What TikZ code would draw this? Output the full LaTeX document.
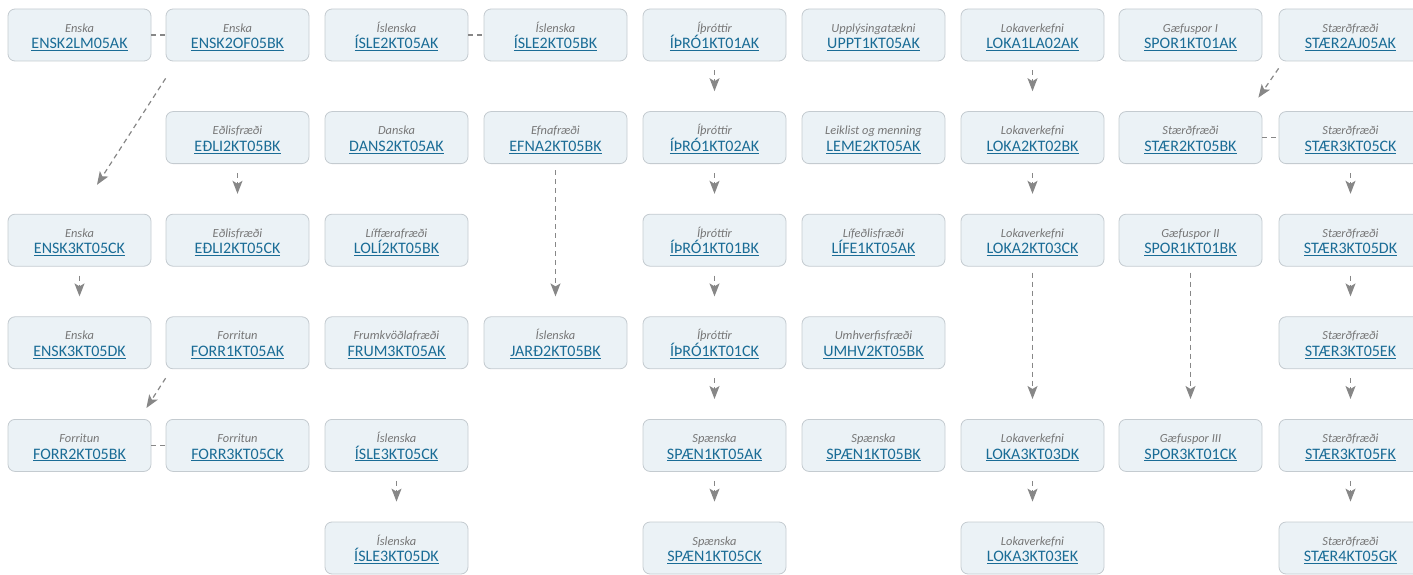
\documentclass[tikz,border=0pt]{standalone}
\usepackage{fontspec}
\setmainfont{Carlito}
\usetikzlibrary{arrows.meta}

\definecolor{boxfill}{RGB}{235,242,246}
\definecolor{boxline}{RGB}{196,203,208}
\definecolor{codeblue}{RGB}{26,108,150}
\definecolor{lblgray}{RGB}{118,118,118}
\definecolor{linkgray}{RGB}{135,135,135}

\newcommand{\crs}[2]{{\fontsize{12.4}{15}\selectfont\itshape\color{lblgray}\rule{0pt}{13pt}#1}\\{\color{codeblue}\underline{#2}}}

\begin{document}
\begin{tikzpicture}[x=1pt, y=-1pt,
  course/.style={draw=boxline, fill=boxfill, line width=0.8pt, rounded corners=7pt,
    minimum width=143pt, minimum height=52pt, align=center, inner sep=0pt,
    font=\fontsize{16}{16.5}\selectfont},
  link/.style={draw=linkgray, line width=1.2pt, dash pattern=on 5pt off 4pt},
  prereq/.style={link, -{Stealth[length=13pt, width=10pt, inset=3pt]}, shorten <=9pt, shorten >=20pt}]

  \useasboundingbox (0,0) rectangle (1413,575);

  % Enska / Forritun
  \draw (79.5,35) node[course] (ensklm) {\crs{Enska}{ENSK2LM05AK}};
  \draw (237.5,35) node[course] (enskof) {\crs{Enska}{ENSK2OF05BK}};
  \draw (237.5,137.6) node[course] (edlib) {\crs{Eðlisfræði}{EÐLI2KT05BK}};
  \draw (79.5,240.2) node[course] (enskc) {\crs{Enska}{ENSK3KT05CK}};
  \draw (237.5,240.2) node[course] (edlic) {\crs{Eðlisfræði}{EÐLI2KT05CK}};
  \draw (79.5,342.8) node[course] (enskd) {\crs{Enska}{ENSK3KT05DK}};
  \draw (237.5,342.8) node[course] (forra) {\crs{Forritun}{FORR1KT05AK}};
  \draw (79.5,445.4) node[course] (forrb) {\crs{Forritun}{FORR2KT05BK}};
  \draw (237.5,445.4) node[course] (forrc) {\crs{Forritun}{FORR3KT05CK}};

  % Íslenska / Danska / Efnafræði
  \draw (396.5,35) node[course] (islea) {\crs{Íslenska}{ÍSLE2KT05AK}};
  \draw (555.5,35) node[course] (isleb) {\crs{Íslenska}{ÍSLE2KT05BK}};
  \draw (396.5,137.6) node[course] (dans) {\crs{Danska}{DANS2KT05AK}};
  \draw (555.5,137.6) node[course] (efna) {\crs{Efnafræði}{EFNA2KT05BK}};
  \draw (396.5,240.2) node[course] (loli) {\crs{Líffærafræði}{LOLÍ2KT05BK}};
  \draw (396.5,342.8) node[course] (frum) {\crs{Frumkvöðlafræði}{FRUM3KT05AK}};
  \draw (555.5,342.8) node[course] (jard) {\crs{Íslenska}{JARÐ2KT05BK}};
  \draw (396.5,445.4) node[course] (islec) {\crs{Íslenska}{ÍSLE3KT05CK}};
  \draw (396.5,548) node[course] (isled) {\crs{Íslenska}{ÍSLE3KT05DK}};

  % Íþróttir / Spænska
  \draw (714.5,35) node[course] (ithra) {\crs{Íþróttir}{ÍÞRÓ1KT01AK}};
  \draw (714.5,137.6) node[course] (ithrb) {\crs{Íþróttir}{ÍÞRÓ1KT02AK}};
  \draw (714.5,240.2) node[course] (ithrc) {\crs{Íþróttir}{ÍÞRÓ1KT01BK}};
  \draw (714.5,342.8) node[course] (ithrd) {\crs{Íþróttir}{ÍÞRÓ1KT01CK}};
  \draw (714.5,445.4) node[course] (spaea) {\crs{Spænska}{SPÆN1KT05AK}};
  \draw (714.5,548) node[course] (spaec) {\crs{Spænska}{SPÆN1KT05CK}};

  % Valáfangar
  \draw (873.5,35) node[course] (uppt) {\crs{Upplýsingatækni}{UPPT1KT05AK}};
  \draw (873.5,137.6) node[course] (leme) {\crs{Leiklist og menning}{LEME2KT05AK}};
  \draw (873.5,240.2) node[course] (life) {\crs{Lífeðlisfræði}{LÍFE1KT05AK}};
  \draw (873.5,342.8) node[course] (umhv) {\crs{Umhverfisfræði}{UMHV2KT05BK}};
  \draw (873.5,445.4) node[course] (spaeb) {\crs{Spænska}{SPÆN1KT05BK}};

  % Lokaverkefni / Gæfuspor
  \draw (1032.5,35) node[course] (lokaa) {\crs{Lokaverkefni}{LOKA1LA02AK}};
  \draw (1032.5,137.6) node[course] (lokab) {\crs{Lokaverkefni}{LOKA2KT02BK}};
  \draw (1032.5,240.2) node[course] (lokac) {\crs{Lokaverkefni}{LOKA2KT03CK}};
  \draw (1032.5,445.4) node[course] (lokad) {\crs{Lokaverkefni}{LOKA3KT03DK}};
  \draw (1032.5,548) node[course] (lokae) {\crs{Lokaverkefni}{LOKA3KT03EK}};
  \draw (1190.5,35) node[course] (spora) {\crs{Gæfuspor I}{SPOR1KT01AK}};
  \draw (1190.5,137.6) node[course] (staerb) {\crs{Stærðfræði}{STÆR2KT05BK}};
  \draw (1190.5,240.2) node[course] (sporb) {\crs{Gæfuspor II}{SPOR1KT01BK}};
  \draw (1190.5,445.4) node[course] (sporc) {\crs{Gæfuspor III}{SPOR3KT01CK}};

  % Stærðfræði
  \draw (1350.5,35) node[course] (staera) {\crs{Stærðfræði}{STÆR2AJ05AK}};
  \draw (1350.5,137.6) node[course] (staerc) {\crs{Stærðfræði}{STÆR3KT05CK}};
  \draw (1350.5,240.2) node[course] (staerd) {\crs{Stærðfræði}{STÆR3KT05DK}};
  \draw (1350.5,342.8) node[course] (staere) {\crs{Stærðfræði}{STÆR3KT05EK}};
  \draw (1350.5,445.4) node[course] (staerf) {\crs{Stærðfræði}{STÆR3KT05FK}};
  \draw (1350.5,548) node[course] (staerg) {\crs{Stærðfræði}{STÆR4KT05GK}};

  % Samhliða
  \draw[link] (ensklm) -- (enskof);
  \draw[link] (islea) -- (isleb);
  \draw[link] (forrb) -- (forrc);
  \draw[link] (staerb) -- (staerc);

  % Undanfarar
  \draw[prereq] (edlib) -- (edlic);
  \draw[prereq] (enskc) -- (enskd);
  \draw[prereq, shorten <=6pt] (efna) -- (jard);
  \draw[prereq] (islec) -- (isled);
  \draw[prereq] (ithra) -- (ithrb);
  \draw[prereq] (ithrb) -- (ithrc);
  \draw[prereq] (ithrc) -- (ithrd);
  \draw[prereq] (ithrd) -- (spaea);
  \draw[prereq] (spaea) -- (spaec);
  \draw[prereq] (lokaa) -- (lokab);
  \draw[prereq] (lokab) -- (lokac);
  \draw[prereq, shorten <=6pt] (lokac) -- (lokad);
  \draw[prereq] (lokad) -- (lokae);
  \draw[prereq, shorten <=6pt] (sporb) -- (sporc);
  \draw[prereq] (staerc) -- (staerd);
  \draw[prereq] (staerd) -- (staere);
  \draw[prereq] (staere) -- (staerf);
  \draw[prereq] (staerf) -- (staerg);

  % Á ská
  \draw[prereq, shorten <=0pt, shorten >=0pt] ([yshift=-17pt]enskof.south west) -- ([xshift=17.5pt, yshift=29pt]enskc.north);
  \draw[prereq, shorten <=0pt, shorten >=0pt] ([yshift=-9pt]forra.south west) -- ([xshift=-5pt, yshift=11pt]forrb.north east);
  \draw[prereq, shorten <=0pt, shorten >=0pt] ([yshift=-7pt]staera.south west) -- ([xshift=-4pt, yshift=13.6pt]staerb.north east);

\end{tikzpicture}
\end{document}
